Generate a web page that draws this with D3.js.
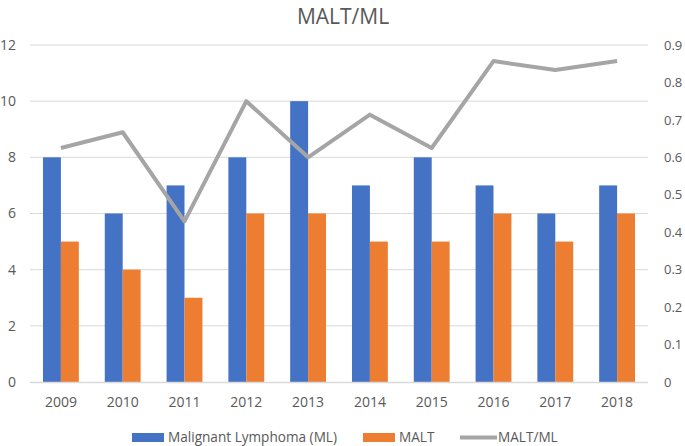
<!DOCTYPE html>
<html><head><meta charset="utf-8">
<script src="https://cdn.jsdelivr.net/npm/d3@7/dist/d3.min.js"></script>
<style>body{margin:0;background:#fff}svg{display:block}text{font-family:"Open Sans","Noto Sans",sans-serif;fill:#595959}</style>
</head><body><svg id="c" width="685" height="446"></svg>
<script>
const years = ["2009","2010","2011","2012","2013","2014","2015","2016","2017","2018"];
const mlValues = [8,6,7,8,10,7,8,7,6,7];
const maltValues = [5,4,3,6,6,5,5,6,5,6];
const ratioValues = [0.625,0.667,0.429,0.75,0.6,0.714,0.625,0.857,0.833,0.857];
const leftTicks = [0,2,4,6,8,10,12];
const rightTicks = [0,0.1,0.2,0.3,0.4,0.5,0.6,0.7,0.8,0.9];
const seriesNames = ["Malignant Lymphoma (ML)","MALT","MALT/ML"];
const colors = ["#4472C4","#ED7D31","#A5A5A5"];

const svg = d3.select("#c");
const L=30,R=648,T=45,B=382;
const x = d3.scaleBand().domain(years).range([L,R]).paddingInner(0.42).paddingOuter(0.21);
const xs = d3.scaleBand().domain([0,1]).range([0,x.bandwidth()]);
const y = d3.scaleLinear().domain([0,12]).range([B,T]);
const y2 = d3.scaleLinear().domain([0,0.9]).range([B,T]);

svg.append("text").attr("x",343).attr("y",24).attr("text-anchor","middle").attr("font-size",21).text("MALT/ML");

const gl = svg.append("g");
gl.selectAll("line").data(leftTicks.filter(d=>d>0)).join("line")
  .attr("x1",L).attr("x2",R).attr("y1",d=>y(d)).attr("y2",d=>y(d)).attr("stroke","#D9D9D9").attr("stroke-width",1);

const ax = svg.append("g").attr("transform",`translate(${L-6},0)`).call(d3.axisLeft(y).tickValues(leftTicks).tickSize(0).tickPadding(8));
ax.select(".domain").remove();
ax.selectAll("text").attr("font-size",14).attr("fill","#595959").style("font-family",'"Open Sans",sans-serif');
const ax2 = svg.append("g").attr("transform",`translate(${R+8},0)`).call(d3.axisRight(y2).tickValues(rightTicks).tickFormat(d3.format("~g")).tickSize(0).tickPadding(8));
ax2.select(".domain").remove();
ax2.selectAll("text").attr("font-size",13).attr("fill","#595959").style("font-family",'"Open Sans",sans-serif');

const bars = [mlValues, maltValues];
bars.forEach((vals,i)=>{
  svg.append("g").selectAll("rect").data(vals).join("rect")
    .attr("x",(d,j)=>x(years[j])+xs(i)).attr("width",xs.bandwidth())
    .attr("y",d=>y(d)).attr("height",d=>B-y(d)).attr("fill",colors[i]);
});

svg.append("line").attr("x1",L).attr("x2",R).attr("y1",B+0.5).attr("y2",B+0.5).attr("stroke","#D9D9D9").attr("stroke-width",1.5);

const xa = svg.append("g").attr("transform",`translate(0,${B})`).call(d3.axisBottom(x).tickSize(0).tickPadding(15));
xa.select(".domain").remove();
xa.selectAll("text").attr("font-size",14).attr("fill","#595959").style("font-family",'"Open Sans",sans-serif');

const line = d3.line().x((d,j)=>x(years[j])+x.bandwidth()/2).y(d=>y2(d));
svg.append("path").datum(ratioValues).attr("d",line).attr("fill","none").attr("stroke",colors[2]).attr("stroke-width",4).attr("stroke-linejoin","round");

// legend
const lg = svg.append("g");
const lx=[132,363,460];
seriesNames.forEach((n,i)=>{
  if(i<2) lg.append("rect").attr("x",lx[i]).attr("y",433).attr("width",32).attr("height",9).attr("fill",colors[i]);
  else lg.append("line").attr("x1",lx[i]).attr("x2",lx[i]+37).attr("y1",437.5).attr("y2",437.5).attr("stroke",colors[i]).attr("stroke-width",4);
  lg.append("text").attr("x",lx[i]+(i<2?36:38)).attr("y",442).attr("font-size",13.6).text(n);
});
</script></body></html>
